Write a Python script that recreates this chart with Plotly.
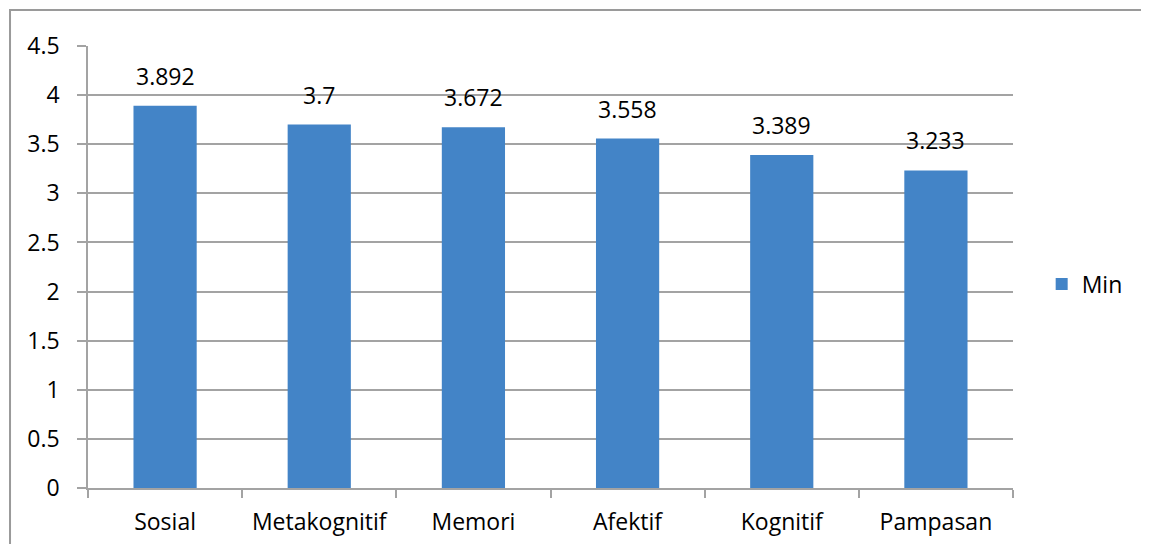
import plotly.graph_objects as go

categories = ["Sosial", "Metakognitif", "Memori", "Afektif", "Kognitif", "Pampasan"]
values = [3.892, 3.7, 3.672, 3.558, 3.389, 3.233]
value_labels = ["3.892", "3.7", "3.672", "3.558", "3.389", "3.233"]
series_name = "Min"
y_ticks = [0, 0.5, 1, 1.5, 2, 2.5, 3, 3.5, 4, 4.5]
y_tick_labels = ["0", "0.5", "1", "1.5", "2", "2.5", "3", "3.5", "4", "4.5"]

FONT = "Open Sans"
GRID = "#a3a3a3"
FS = 23

fig = go.Figure()
fig.add_trace(go.Bar(
    x=categories, y=values, name=series_name,
    marker=dict(color="#4384c7", line=dict(width=0)),
    width=0.41,
))

for c, v, t in zip(categories, values, value_labels):
    fig.add_annotation(x=c, y=v, text=t, showarrow=False, yshift=30,
                       font=dict(family=FONT, size=FS, color="#000000"))

fig.add_shape(type="rect", xref="paper", yref="paper",
              x0=-0.0843, x1=1.3, y0=-0.3, y1=1.0814,
              line=dict(color="#9a9a9a", width=2), fillcolor="rgba(0,0,0,0)",
              layer="below")

fig.update_layout(
    width=1141, height=536,
    margin=dict(l=80, r=136, t=38, b=56),
    paper_bgcolor="white", plot_bgcolor="white",
    font=dict(family=FONT, size=FS, color="#000000"),
    showlegend=True,
    legend=dict(x=1.031, y=0.4615, xanchor="left", yanchor="middle",
                font=dict(family=FONT, size=FS), itemwidth=30,
                bgcolor="rgba(0,0,0,0)"),
    bargap=0.59,
)
fig.update_yaxes(range=[0, 4.5], tickvals=y_ticks, ticktext=y_tick_labels,
                 showgrid=True, gridcolor=GRID, gridwidth=1.5,
                 showline=True, linecolor=GRID, linewidth=1.5,
                 ticks="outside", ticklen=9, tickcolor=GRID, tickwidth=1.5,
                 ticklabelstandoff=13, zeroline=False, fixedrange=True,
                 automargin=False)
fig.update_xaxes(showgrid=False, showline=True, linecolor=GRID, linewidth=1.5,
                 ticks="outside", ticklen=8, tickcolor=GRID, tickwidth=1.5,
                 tickson="boundaries", ticklabelstandoff=13, fixedrange=True,
                 automargin=False)

fig.write_html("out.html")
